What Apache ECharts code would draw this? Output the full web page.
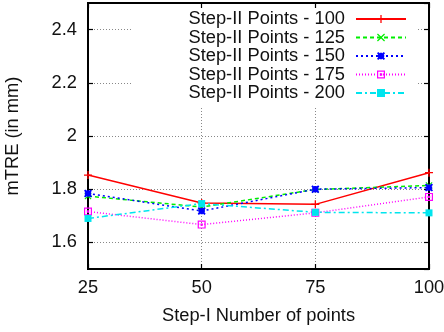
<!DOCTYPE html>
<html>
<head>
<meta charset="utf-8">
<script src="https://cdn.jsdelivr.net/npm/echarts@6/dist/echarts.min.js"></script>
<style>
  html, body { margin: 0; padding: 0; background: #fff; }
  #chart { width: 444px; height: 332px; }
</style>
</head>
<body>
<div id="chart"></div>
<script>
// Step-I number of points (x axis)
const stepOne = [25, 50, 75, 100]

// mTRE values per Step-II point count
const pts100 = [1.853, 1.748, 1.743, 1.862]
const pts125 = [1.774, 1.733, 1.799, 1.814]
const pts150 = [1.784, 1.718, 1.800, 1.806]
const pts175 = [1.716, 1.667, 1.711, 1.771]
const pts200 = [1.690, 1.746, 1.713, 1.711]

const seriesNames = [
  'Step-II Points - 100',
  'Step-II Points - 125',
  'Step-II Points - 150',
  'Step-II Points - 175',
  'Step-II Points - 200',
]

const FONT = 'Liberation Sans, Arial, sans-serif'
const TXT = '#111'
const FS = 18.3

// gnuplot-like point shapes
const plusPath = 'path://M0,4.2L4.2,4.2L4.2,0L5.8,0L5.8,4.2L10,4.2L10,5.8L5.8,5.8L5.8,10L4.2,10L4.2,5.8L0,5.8Z'
const crossPath = 'path://M0,1.1L1.1,0L5,3.9L8.9,0L10,1.1L6.1,5L10,8.9L8.9,10L5,6.1L1.1,10L0,8.9L3.9,5Z'
const starPath = 'path://M0,1.5L1.5,0L5,3L8.5,0L10,1.5L7,5L10,8.5L8.5,10L5,7L1.5,10L0,8.5L3,5Z M1,3.5L9,3.5L9,6.5L1,6.5Z M3.5,1L6.5,1L6.5,9L3.5,9Z'
const boxPath = 'path://M0,0L10,0L10,10L0,10Z M1.5,1.5L1.5,8.5L8.5,8.5L8.5,1.5Z M3.5,3.5L6.5,3.5L6.5,6.5L3.5,6.5Z'

function pairs(vals) {
  return stepOne.map((x, i) => [x, vals[i]])
}

function mkSeries(name, vals, color, lineType, symbol, size) {
  return {
    name: name,
    type: 'line',
    data: pairs(vals),
    symbol: symbol,
    symbolSize: size,
    showAllSymbol: true,
    lineStyle: { color: color, width: 1.5, type: lineType },
    itemStyle: { color: color },
    emphasis: { disabled: true },
    animation: false,
    z: 3,
  }
}

const gridLine = { show: true, lineStyle: { color: '#888', width: 1, type: [1, 2] } }
const blackAxis = { show: true, lineStyle: { color: '#000', width: 2 } }
const tick = { show: true, inside: true, length: 5, lineStyle: { color: '#000', width: 1.2 } }

const option = {
  backgroundColor: '#fff',
  animation: false,
  grid: {
    left: 88, right: 15, top: 3, bottom: 63,
    outerBoundsMode: 'none',
    show: true, borderColor: '#000', borderWidth: 2,
  },
  legend: {
    orient: 'vertical',
    right: 26,
    top: 8,
    align: 'right',
    itemWidth: 50,
    itemHeight: 10,
    itemGap: 0.5,
    padding: [2, 11, 4, 57],
    backgroundColor: '#fff',
    textStyle: { fontFamily: FONT, fontSize: FS, color: TXT, lineHeight: 17, padding: [0, 6, 0, 0] },
    data: seriesNames,
  },
  xAxis: [{
    type: 'value',
    min: 25, max: 100, interval: 25,
    axisLine: blackAxis,
    axisTick: tick,
    splitLine: gridLine,
    axisLabel: { fontFamily: FONT, fontSize: FS, color: TXT, margin: 10 },
    name: 'Step-I Number of points',
    nameLocation: 'middle',
    nameGap: 38,
    nameTextStyle: { fontFamily: FONT, fontSize: FS, color: TXT },
  }, {
    type: 'value', position: 'top',
    min: 25, max: 100, interval: 25,
    axisLine: blackAxis, axisTick: tick,
    splitLine: { show: false }, axisLabel: { show: false },
  }],
  yAxis: [{
    type: 'value',
    min: 1.5, max: 2.5, splitNumber: 5,
    axisLine: blackAxis,
    axisTick: tick,
    splitLine: gridLine,
    axisLabel: {
      fontFamily: FONT, fontSize: FS, color: TXT, margin: 11,
      showMinLabel: false, showMaxLabel: false,
      formatter: v => String(Math.round(v * 10) / 10),
    },
    name: 'mTRE (in mm)',
    nameLocation: 'middle',
    nameGap: 66,
    nameTextStyle: { fontFamily: FONT, fontSize: FS, color: TXT },
  }, {
    type: 'value', position: 'right',
    min: 1.5, max: 2.5, splitNumber: 5,
    axisLine: blackAxis, axisTick: tick,
    splitLine: { show: false }, axisLabel: { show: false },
  }],
  series: [
    mkSeries(seriesNames[0], pts100, '#ff0000', 'solid', plusPath, 8),
    mkSeries(seriesNames[1], pts125, '#00ee00', [4, 3], crossPath, 7),
    mkSeries(seriesNames[2], pts150, '#0000ff', [2, 3], starPath, 8),
    mkSeries(seriesNames[3], pts175, '#ff00ff', [1, 2], boxPath, 8),
    mkSeries(seriesNames[4], pts200, '#00e5ee', [6, 3, 2, 3], 'rect', 7),
  ],
}

const myChart = echarts.init(document.getElementById('chart'), null, { renderer: 'canvas' })
myChart.setOption(option)
</script>
</body>
</html>
